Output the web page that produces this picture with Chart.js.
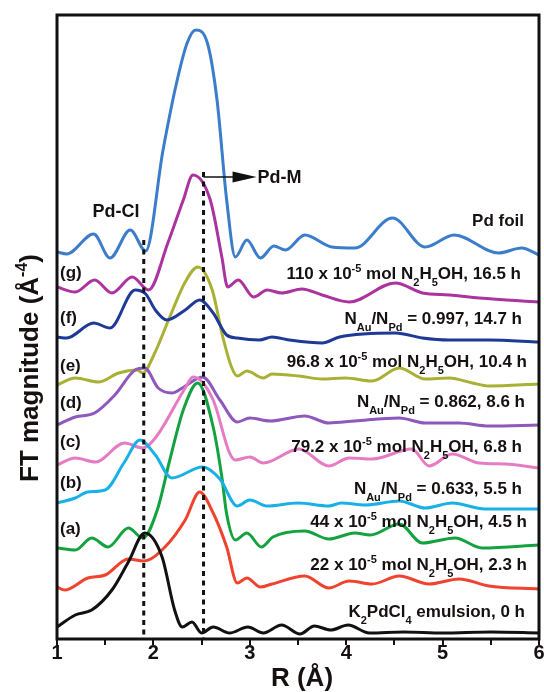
<!DOCTYPE html>
<html>
<head>
<meta charset="utf-8">
<script src="https://cdn.jsdelivr.net/npm/chart.js@4/dist/chart.umd.min.js"></script>
<style>
  html, body { margin: 0; padding: 0; background: #fff; }
  #wrap { width: 544px; height: 692px; }
</style>
</head>
<body>
<div id="wrap"><canvas id="ftChart" width="544" height="692"></canvas></div>
<script>
// R (Å) and stacked FT magnitude (curves are offset vertically)
const foilR = [1.0, 1.1, 1.38, 1.55, 1.76, 1.92, 2.1, 2.24, 2.35, 2.44, 2.56, 2.66, 2.76, 2.85, 2.97, 3.11, 3.25, 3.37, 3.57, 3.85, 4.09, 4.48, 4.82, 5.12, 5.58, 5.82, 6.0];
const foilY = [387, 385, 405, 381, 409, 388, 489, 556, 596, 609, 596, 539, 439, 382, 399, 381, 393, 389, 404, 392, 391, 421, 392, 404, 386, 391, 384];

const gR = [1.0, 1.19, 1.39, 1.57, 1.78, 1.95, 2.15, 2.31, 2.41, 2.59, 2.71, 2.77, 2.88, 3.04, 3.18, 3.33, 3.54, 3.75, 4.03, 4.51, 4.79, 5.07, 5.38, 6.0];
const gY = [352, 347, 359, 346, 362, 349, 396, 439, 464, 439, 382, 352, 359, 342, 349, 346, 350, 344, 337, 356, 346, 344, 341, 337];

const fR = [1.0, 1.1, 1.38, 1.55, 1.81, 1.92, 2.02, 2.14, 2.33, 2.48, 2.62, 2.76, 2.87, 3.1, 3.23, 3.41, 3.75, 3.93, 4.51, 4.79, 5.07, 5.48, 6.0];
const fY = [302, 301, 316, 311, 349, 345, 329, 319, 329, 339, 326, 304, 301, 299, 302, 299, 296, 302, 306, 301, 299, 299, 297];

const eR = [1.0, 1.19, 1.43, 1.64, 1.83, 1.89, 2.0, 2.17, 2.33, 2.46, 2.61, 2.72, 2.81, 2.87, 2.97, 3.14, 3.23, 3.51, 3.75, 3.99, 4.27, 4.55, 4.82, 5.07, 5.31, 5.48, 6.0];
const eY = [254, 261, 257, 266, 269, 266, 283, 322, 357, 372, 349, 302, 272, 263, 268, 261, 265, 263, 260, 261, 258, 271, 260, 261, 256, 253, 255];

const dR = [1.0, 1.19, 1.39, 1.6, 1.81, 1.91, 2.05, 2.19, 2.3, 2.51, 2.69, 2.87, 3.0, 3.21, 3.57, 3.82, 4.09, 4.55, 4.82, 5.17, 5.48, 6.0];
const dY = [214, 222, 226, 244, 269, 271, 251, 246, 251, 262, 239, 217, 221, 218, 223, 216, 218, 221, 216, 216, 213, 214];

const cR = [1.0, 1.19, 1.4, 1.7, 1.89, 2.02, 2.33, 2.41, 2.62, 2.79, 2.85, 3.0, 3.14, 3.51, 3.82, 4.03, 4.27, 4.68, 4.86, 5.1, 5.38, 5.65, 6.0];
const cY = [174, 181, 177, 196, 191, 201, 251, 262, 239, 186, 179, 182, 176, 190, 173, 181, 180, 190, 173, 185, 176, 175, 171];

const bR = [1.0, 1.19, 1.32, 1.5, 1.7, 1.86, 2.02, 2.19, 2.51, 2.69, 2.87, 3.0, 3.18, 3.5, 3.82, 3.95, 4.2, 4.55, 4.82, 5.1, 5.44, 6.0];
const bY = [136, 141, 147, 149, 177, 199, 184, 161, 172, 160, 133, 139, 133, 136, 133, 136, 134, 138, 131, 136, 130, 130];

const aR = [1.0, 1.19, 1.36, 1.53, 1.74, 1.89, 2.04, 2.17, 2.31, 2.46, 2.62, 2.71, 2.76, 2.85, 2.97, 3.12, 3.24, 3.57, 3.82, 4.09, 4.25, 4.55, 4.79, 5.13, 5.41, 6.0];
const aY = [91, 89, 101, 92, 111, 101, 129, 179, 229, 256, 212, 162, 125, 99, 106, 92, 102, 108, 100, 106, 104, 115, 96, 101, 91, 94];

const redR = [1.0, 1.08, 1.32, 1.5, 1.74, 1.9, 2.12, 2.33, 2.48, 2.62, 2.76, 2.87, 2.97, 3.11, 3.23, 3.57, 3.82, 4.03, 4.27, 4.55, 4.86, 5.17, 5.48, 6.0];
const redY = [52, 49, 61, 64, 80, 78, 92, 119, 147, 126, 92, 56, 61, 52, 55, 63, 51, 58, 55, 63, 55, 60, 53, 50];

const k2R = [1.0, 1.19, 1.36, 1.57, 1.74, 1.91, 2.09, 2.22, 2.3, 2.4, 2.5, 2.62, 2.79, 2.98, 3.14, 3.33, 3.52, 3.67, 3.84, 4.02, 4.24, 4.6, 5.0, 5.5, 6.0];
const k2Y = [12, 24, 29, 49, 77, 106, 82, 29, 12, 17, 6, 12, 6, 12, 6, 14, 5, 13, 9, 14, 6, 7, 6, 7, 6];

// labels on the right of each curve, and letters on the left
const sampleLabels = [
    'Pd foil',
    '110 x 10^{-5} mol N_{2}H_{5}OH, 16.5 h',
    'N_{Au}/N_{Pd} = 0.997, 14.7 h',
    '96.8 x 10^{-5} mol N_{2}H_{5}OH, 10.4 h',
    'N_{Au}/N_{Pd} = 0.862, 8.6 h',
    '79.2 x 10^{-5} mol N_{2}H_{5}OH, 6.8 h',
    'N_{Au}/N_{Pd} = 0.633, 5.5 h',
    '44 x 10^{-5} mol N_{2}H_{5}OH, 4.5 h',
    '22 x 10^{-5} mol N_{2}H_{5}OH, 2.3 h',
    'K_{2}PdCl_{4} emulsion, 0 h'
];
const letters = ['(g)', '(f)', '(e)', '(d)', '(c)', '(b)', '(a)'];
const bondR = [1.9, 2.52]; // Pd-Cl and Pd-M positions

const FONT = '"Liberation Sans", Arial, Helvetica, sans-serif';
const INK = '#161010';

function mk(r, y) {
    return r.map((v, i) => ({ x: v, y: y[i] }));
}

// draws text with _{sub} and ^{sup} parts
function richText(ctx, str, x, y, size, align) {
    const small = Math.round(size * 0.62);
    const segs = str.split(/(\^\{[^}]*\}|_\{[^}]*\})/).filter(Boolean).map(p => {
        if (p[0] === '^') return { t: p.slice(2, -1), f: small, dy: -size * 0.42 };
        if (p[0] === '_') return { t: p.slice(2, -1), f: small, dy: size * 0.42 };
        return { t: p, f: size, dy: 0 };
    });
    let w = 0;
    segs.forEach(s => {
        ctx.font = 'bold ' + s.f + 'px ' + FONT;
        s.w = ctx.measureText(s.t).width;
        w += s.w;
    });
    let cx = align === 'right' ? x - w : align === 'center' ? x - w / 2 : x;
    ctx.textAlign = 'left';
    ctx.textBaseline = 'alphabetic';
    const base = y + size * 0.36;
    segs.forEach(s => {
        ctx.font = 'bold ' + s.f + 'px ' + FONT;
        ctx.fillText(s.t, cx, base + s.dy);
        cx += s.w;
    });
}

const decor = {
    id: 'decor',
    afterDatasetsDraw(chart) {
        const ctx = chart.ctx;
        const xs = chart.scales.x, ys = chart.scales.y;
        const a = chart.chartArea;
        ctx.save();

        // dotted guide lines
        ctx.strokeStyle = '#111';
        ctx.lineWidth = 3;
        ctx.setLineDash([5, 4.5]);
        [[bondR[0], 399], [bondR[1], 467]].forEach(([r, top]) => {
            const px = xs.getPixelForValue(r);
            ctx.beginPath();
            ctx.moveTo(px, ys.getPixelForValue(top));
            ctx.lineTo(px, a.bottom);
            ctx.stroke();
        });
        ctx.setLineDash([]);

        // arrow to Pd-M
        const ay = ys.getPixelForValue(462);
        const ax0 = xs.getPixelForValue(bondR[1]);
        const ax1 = xs.getPixelForValue(3.07);
        ctx.lineWidth = 1.5;
        ctx.beginPath();
        ctx.moveTo(ax0, ay);
        ctx.lineTo(ax1 - 20, ay);
        ctx.stroke();
        ctx.fillStyle = '#111';
        ctx.beginPath();
        ctx.moveTo(ax1, ay);
        ctx.lineTo(ax1 - 24, ay - 5.5);
        ctx.lineTo(ax1 - 24, ay + 5.5);
        ctx.closePath();
        ctx.fill();

        ctx.fillStyle = INK;
        richText(ctx, 'Pd-M', ax1 + 1, ay, 18, 'left');
        richText(ctx, 'Pd-Cl', 116, 211, 18, 'center');

        const rightX = [524, 521, 522, 527, 525, 522, 522, 527, 527, 525];
        const rightY = [220, 273, 318, 361, 401, 446, 488, 521, 564, 611];
        sampleLabels.forEach((t, i) => richText(ctx, t, rightX[i], rightY[i], 17, 'right'));

        const letterY = [272, 317, 365, 402, 441, 482, 528];
        letters.forEach((t, i) => richText(ctx, t, 60, letterY[i], 17, 'left'));

        // box
        ctx.strokeStyle = '#111';
        ctx.lineWidth = 3;
        ctx.strokeRect(a.left, a.top, a.right - a.left, a.bottom - a.top);

        // axis titles
        ctx.fillStyle = INK;
        richText(ctx, 'R (Å)', (a.left + a.right) / 2 + 4, 677, 26, 'center');
        ctx.translate(29, 368);
        ctx.rotate(-Math.PI / 2);
        richText(ctx, 'FT magnitude (Å^{-4})', 0, 0, 26, 'center');
        ctx.restore();
    }
};

const series = [
    { d: mk(k2R, k2Y), c: '#111111' },
    { d: mk(redR, redY), c: '#F0432F' },
    { d: mk(bR, bY), c: '#19B1E5' },
    { d: mk(cR, cY), c: '#E57CC3' },
    { d: mk(dR, dY), c: '#8F58BC' },
    { d: mk(fR, fY), c: '#1F3996' },
    { d: mk(eR, eY), c: '#A8B135' },
    { d: mk(gR, gY), c: '#AA339F' },
    { d: mk(aR, aY), c: '#13A23F' },
    { d: mk(foilR, foilY), c: '#3C7DCB' }
];

const ctx = document.getElementById('ftChart').getContext('2d');
new Chart(ctx, {
    type: 'line',
    data: {
        datasets: series.map(s => ({
            data: s.d,
            borderColor: s.c,
            borderWidth: 3,
            pointRadius: 0,
            fill: false,
            cubicInterpolationMode: 'monotone'
        }))
    },
    options: {
        responsive: false,
        animation: false,
        layout: { padding: { top: 15, right: 5, left: 0, bottom: 0 } },
        plugins: { legend: { display: false }, tooltip: { enabled: false } },
        scales: {
            x: {
                type: 'linear',
                min: 1,
                max: 6,
                afterFit(s) { s.height = 53; s.paddingLeft = 0; s.paddingRight = 0; },
                border: { display: false },
                grid: { drawOnChartArea: false, tickLength: 6, color: '#111', lineWidth: 2 },
                ticks: {
                    stepSize: 0.5,
                    autoSkip: false,
                    maxRotation: 0,
                    padding: -4,
                    color: INK,
                    font: { family: FONT, size: 20, weight: 'bold' },
                    callback: v => Number.isInteger(v) ? v : ''
                }
            },
            y: {
                min: 0,
                max: 624,
                afterFit(s) { s.width = 57; },
                border: { display: false },
                grid: { display: false },
                ticks: { display: false }
            }
        }
    },
    plugins: [decor]
});
</script>
</body>
</html>
